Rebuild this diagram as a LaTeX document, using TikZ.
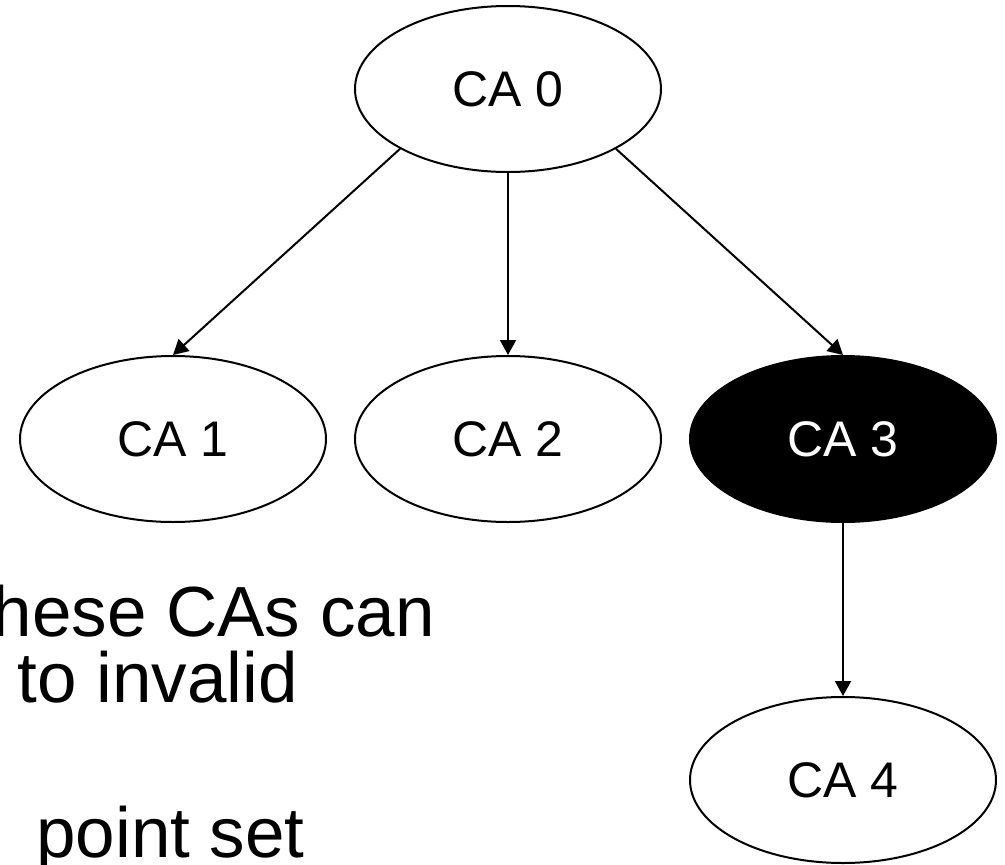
\documentclass[tikz,border=0pt]{standalone}
\usepackage{fontspec}
\setmainfont{Liberation Sans}
\usetikzlibrary{shapes.geometric,arrows.meta}
\begin{document}
\begin{tikzpicture}[x=1pt,y=-1pt,
  ca/.style={ellipse, draw, line width=2pt, minimum width=306pt,
    minimum height=166pt, inner sep=0pt, font=\fontsize{50}{60}\selectfont},
  cadark/.style={ca, fill=black, text=white},
  link/.style={line width=2pt, -{Triangle[length=15pt,width=16pt]}},
  note/.style={anchor=base east, inner sep=0pt, font=\fontsize{71}{80}\selectfont}]
  \useasboundingbox[fill=white] (0,0) rectangle (1005,865);

  % certificate authorities
  \node[ca] (ca0) at (508,89) {CA 0};
  \node[ca] (ca1) at (173,439) {CA 1};
  \node[ca] (ca2) at (508,439) {CA 2};
  \node[cadark] (ca3) at (843,439) {CA 3};
  \node[ca] (ca4) at (843,780) {CA 4};

  % trust links
  \draw[link] (ca0.209) -- (ca1.north);
  \draw[link] (ca0.south) -- (ca2.north);
  \draw[link] (ca0.331) -- (ca3.north);
  \draw[link] (ca3.south) -- (ca4.north);

  % side note
  \node[note] (n1) at (435,636) {hese CAs can};
  \node[note] (n2) at (298,702) {to invalid};
  \node[note] (n3) at (305,857) {point set};
\end{tikzpicture}
\end{document}
